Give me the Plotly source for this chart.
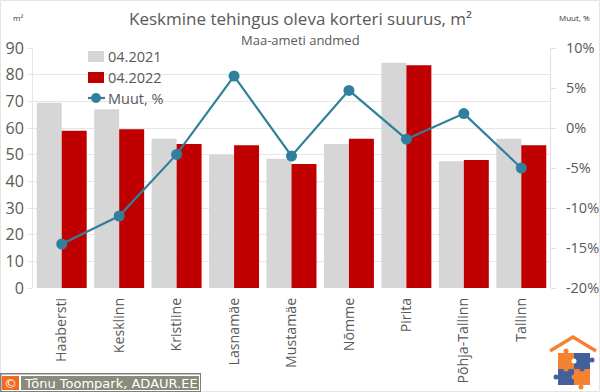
import plotly.graph_objects as go

categories = ["Haabersti", "Kesklinn", "Kristiine", "Lasnamäe", "Mustamäe", "Nõmme", "Pirita", "Põhja-Tallinn", "Tallinn"]
size_2021 = [69.5, 67, 56, 50, 48.5, 54, 84.5, 47.5, 56]
size_2022 = [59, 59.5, 54, 53.5, 46.5, 56, 83.5, 48, 53.5]
change_pct = [-14.5, -11, -3.3, 6.5, -3.5, 4.7, -1.4, 1.8, -5]
left_ticks = [0, 10, 20, 30, 40, 50, 60, 70, 80, 90]
right_ticks = [-20, -15, -10, -5, 0, 5, 10]
right_labels = ["-20%", "-15%", "-10%", "-5%", "0%", "5%", "10%"]

W, H = 600, 392
L, R, T, B = 33, 550, 48, 288
FONT = "Open Sans"
GREY = "#595959"
TEAL = "#31809b"
BAR1, BAR2 = "#d6d6d6", "#c00000"
GRID = "#e6e6e6"

def px(x): return (x - L) / (R - L)
def py(y): return (B - y) / (B - T)

fig = go.Figure()
fig.add_bar(x=categories, y=size_2021, name="04.2021", marker_color=BAR1, marker_line_width=0)
fig.add_bar(x=categories, y=size_2022, name="04.2022", marker_color=BAR2, marker_line_width=0)
fig.add_scatter(x=categories, y=change_pct, name="Muut, %", yaxis="y2", mode="lines+markers",
                line=dict(color=TEAL, width=2.2), marker=dict(color=TEAL, size=11))

shapes = [dict(type="rect", xref="paper", yref="paper", x0=px(0.5), x1=px(599.5), y0=py(391.5), y1=py(0.5),
               line=dict(color="#e4e4e4", width=1), layer="below")]

def rect(x0, y0, x1, y1, c):
    shapes.append(dict(type="rect", xref="paper", yref="paper", x0=px(x0), x1=px(x1), y0=py(y1), y1=py(y0),
                       fillcolor=c, line_width=0))
def circ(cx, cy, r, c):
    shapes.append(dict(type="circle", xref="paper", yref="paper", x0=px(cx-r), x1=px(cx+r), y0=py(cy+r), y1=py(cy-r),
                       fillcolor=c, line_width=0))

# white subtitle box hides the top gridline
rect(125, 44, 474, 50, "#ffffff")

# logo: roof and puzzle
OR, BL = "#f58233", "#44609c"
shapes.append(dict(type="path", xref="paper", yref="paper",
                   path=f"M {px(550)} {py(351)} L {px(573)} {py(337)} L {px(596)} {py(351)}",
                   line=dict(color=OR, width=3.5)))
rect(558, 353, 574, 369, OR)
rect(574, 353, 590, 369, BL)
rect(558, 369, 574, 385, BL)
rect(574, 369, 590, 385, OR)
circ(566, 351, 2.5, OR); circ(592, 360, 2.5, BL); circ(556, 377, 2.5, BL); circ(581, 387, 2.5, OR)
circ(574, 361, 2.5, "#ffffff"); circ(582, 369, 2.5, BL); circ(566, 369, 2.5, OR); circ(574, 377, 2.5, OR)

# copyright box
rect(0, 373, 201, 392, "#7f7f7f")
rect(1.5, 374.5, 200, 391, "#ffffff")
rect(21, 376, 199, 390, "#8b8b7b")
rect(2, 376, 19, 390, "#f26a1b")

# legend swatches
rect(88, 51, 104, 62, BAR1)
rect(88, 72, 104, 83, BAR2)
shapes.append(dict(type="line", xref="paper", yref="paper", x0=px(88), x1=px(105), y0=py(98), y1=py(98),
                   line=dict(color=TEAL, width=2.2)))
circ(96, 98, 5, TEAL)

def label(text, x, y, size, color=GREY, family=FONT, xanchor="center"):
    return dict(text=text, x=px(x), y=py(y), xref="paper", yref="paper", xanchor=xanchor, yanchor="middle",
                showarrow=False, font=dict(size=size, color=color, family=family))

fig.update_layout(
    width=W, height=H, autosize=False,
    margin=dict(l=L, r=W - R, t=T, b=H - B),
    paper_bgcolor="white", plot_bgcolor="white",
    font=dict(family=FONT, color=GREY),
    barmode="group", bargap=0.13, bargroupgap=0,
    showlegend=False,
    xaxis=dict(type="category", range=[-0.5, 8.5], tickangle=-90, tickfont=dict(size=14.2, color=GREY),
               showline=False, ticks="", showgrid=False, zeroline=False, automargin=False,
               ticklabelstandoff=6),
    yaxis=dict(range=[0, 90], tickvals=left_ticks, tickfont=dict(size=16, color=GREY),
               showgrid=True, gridcolor=GRID, gridwidth=1, zeroline=False, showline=True, linecolor=GRID,
               ticks="outside", ticklen=5, tickcolor=GRID, automargin=False),
    yaxis2=dict(range=[-20, 10], tickvals=right_ticks, ticktext=right_labels, overlaying="y", side="right",
                tickfont=dict(size=14.5, color=GREY), showgrid=False, zeroline=False,
                showline=True, linecolor="#e0e0e0", ticks="outside", ticklen=5, tickcolor="#e0e0e0",
                automargin=False, ticklabelstandoff=7),
    shapes=shapes,
    annotations=[
        label("Keskmine tehingus oleva korteri suurus, m²", 300, 18, 17),
        label("Maa-ameti andmed", 300, 40, 13),
        label("m²", 18, 17, 8, "#333333"),
        label("Muut, %", 574, 17, 8, "#333333"),
        label("04.2021", 106, 57, 14.5, xanchor="left"),
        label("04.2022", 106, 77, 14.5, xanchor="left"),
        label("Muut, %", 106, 98, 14.5, xanchor="left"),
        label("©", 10.5, 383, 13, "white", "DejaVu Sans"),
        label("Tõnu Toompark, ADAUR.EE", 22, 383, 13, "white", "DejaVu Sans", xanchor="left"),
    ],
)
fig.write_html("out.html", config={"displayModeBar": False},
               post_script="document.body.style.margin='0';document.documentElement.style.overflow='hidden';")
